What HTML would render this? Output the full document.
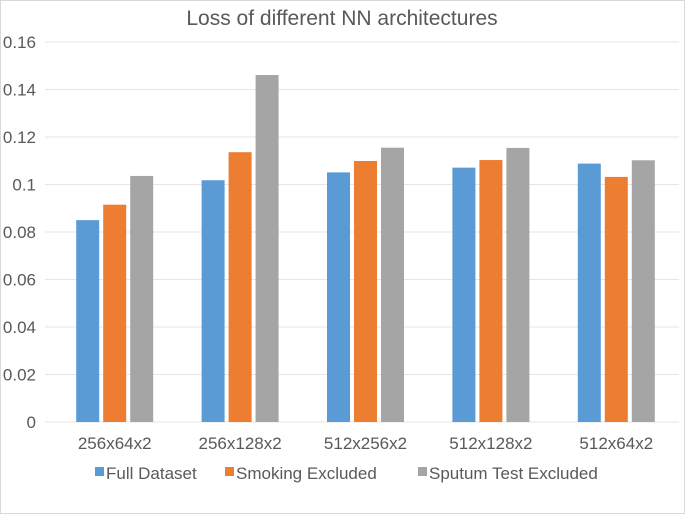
<!DOCTYPE html>
<html><head><meta charset="utf-8"><style>
body{margin:0;background:#fff;}
svg{display:block;font-family:"Liberation Sans",Arial,sans-serif;}
</style></head><body>
<svg id="chart" width="685" height="514">
<rect x="0.5" y="0.5" width="684" height="513" fill="#fff" stroke="#d9d9d9"/>
<text x="342" y="25" text-anchor="middle" font-size="21" fill="#595959">Loss of different NN architectures</text>
<g id="grid"></g><g id="bars"></g><g id="labels"></g>
<g id="legend"></g>
</svg>
<script>
const categories=["256x64x2","256x128x2","512x256x2","512x128x2","512x64x2"];
const seriesNames=["Full Dataset","Smoking Excluded","Sputum Test Excluded"];
const fullDataset=[0.085,0.1018,0.1051,0.1071,0.1088];
const smokingExcluded=[0.0915,0.1136,0.1099,0.1103,0.1032];
const sputumExcluded=[0.1036,0.1461,0.1155,0.1154,0.1102];
const yTicks=[0,0.02,0.04,0.06,0.08,0.1,0.12,0.14,0.16];
const yTickLabels=["0","0.02","0.04","0.06","0.08","0.1","0.12","0.14","0.16"];
const colors=["#5B9BD5","#ED7D31","#A5A5A5"];
const NS="http://www.w3.org/2000/svg";
const x0=52,x1=679,yBase=422,yTop=42;
const y=v=>yBase-(v/0.16)*(yBase-yTop);
const gw=(x1-x0)/categories.length;
function mk(t,a,p){const e=document.createElementNS(NS,t);for(const k in a)e.setAttribute(k,a[k]);p.appendChild(e);return e;}
const grid=document.getElementById('grid'),bars=document.getElementById('bars'),labels=document.getElementById('labels'),legend=document.getElementById('legend');
yTicks.forEach((v,i)=>{
 const l=mk('line',{x1:x0-7,x2:x1,y1:y(v),y2:y(v),stroke:'#e6e6e6','stroke-width':1},grid);
 
 
 const t=mk('text',{x:36,y:y(v)+6,'text-anchor':'end','font-size':17,fill:'#595959'},labels);
 t.textContent=yTickLabels[i];
 
 
});
const series=[fullDataset,smokingExcluded,sputumExcluded];
const bw=23,gap=4;
categories.forEach((c,i)=>{
 const cx=x0+gw*(i+0.5);
 series.forEach((s,j)=>{
  const bx=cx+(j-1)*(bw+gap)-bw/2;
  const r=mk('rect',{x:bx,y:y(s[i]),width:bw,height:yBase-y(s[i]),fill:colors[j]},bars);
  
  
 });
 const t=mk('text',{x:cx,y:449,'text-anchor':'middle','font-size':17,fill:'#595959'},labels);
 t.textContent=c;
 
 
});
const lx=[95,225,418];
seriesNames.forEach((n,j)=>{
 const r=mk('rect',{x:lx[j],y:467,width:9,height:9,fill:colors[j]},legend);
 
 
 const t=mk('text',{x:lx[j]+11,y:479,'font-size':17,fill:'#595959'},legend);
 t.textContent=n;
 
 
});
</script>
</body></html>
